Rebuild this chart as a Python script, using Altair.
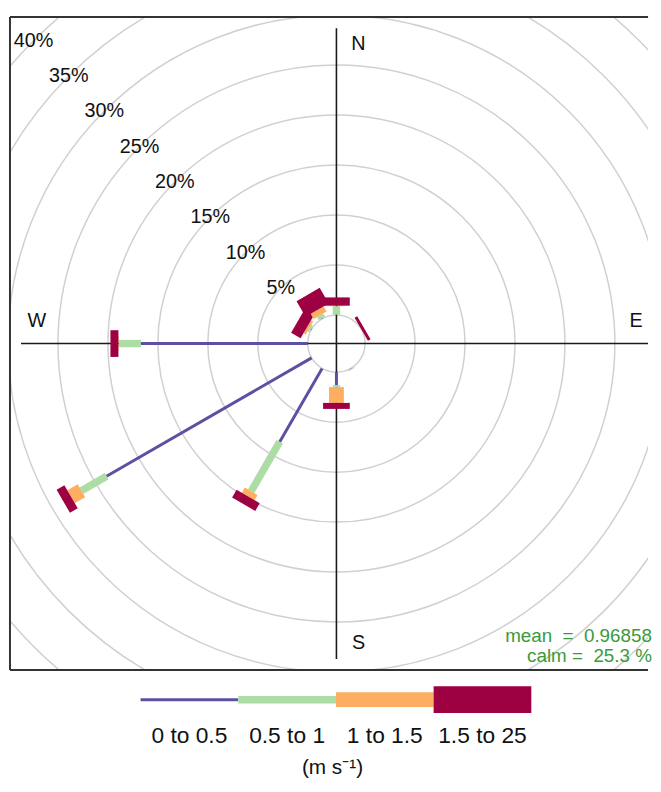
import math
import altair as alt
import pandas as pd

# ---------------- data ----------------
directions = [0, 30, 60, 90, 120, 150, 180, 210, 240, 270, 300, 330]
speed_bins = ["0 to 0.5", "0.5 to 1", "1 to 1.5", "1.5 to 25"]
# frequency (%) of each speed bin per direction
freq_0_05 = [0.02, 0.0, 0.0, 0.0, 0.0, 0.05, 1.29, 8.5, 23.7, 16.7, 0.05, 0.05]
freq_05_1 = [0.85, 0.0, 0.0, 0.0, 0.0, 0.10, 0.20, 5.7, 2.9, 2.2, 0.20, 0.35]
freq_1_15 = [0.05, 0.0, 0.0, 0.0, 0.0, 0.0, 1.58, 0.6, 1.2, 0.05, 0.25, 0.60]
freq_15_25 = [0.83, 0.0, 0.3, 0.0, 0.0, 0.0, 0.60, 0.9, 0.9, 0.8, 1.10, 1.80]
ring_levels = [0, 5, 10, 15, 20, 25, 30, 35, 40]
compass_labels = ["N", "E", "S", "W"]
compass_angles = [0, 90, 180, 270]
mean_speed = "0.96858"
calm_pct = "25.3"
units_label = "(m s\u207b\u00b9)"

# ---------------- styles ----------------
colors = ["#5E4FA2", "#ABDDA4", "#FDAE61", "#9E0142"]
paddle_widths = [3, 7.5, 15, 27]
legend_widths = [5, 15, 23, 31]
FONT = "Liberation Sans"
PANEL_W, PANEL_H = 645, 660
CENTER_X = 330  # pixels from the panel's left edge to the rose centre
NB = "\u00a0"

series = [freq_0_05, freq_05_1, freq_1_15, freq_15_25]
totals = [sum(s[i] for s in series) for i in range(len(directions))]
max_freq = max(totals)
offset = 0.1 * max_freq          # calm circle offset
m = max_freq + offset            # axis line half-length
half = 1.035 * m                 # panel half-size in data units
pxu = (PANEL_H / 2) / half
x_left = -CENTER_X / pxu
xs = alt.Scale(domain=[x_left, x_left + PANEL_W / pxu], nice=False, zero=False)
ys = alt.Scale(domain=[-half, half], nice=False, zero=False)

rows = []
for i, d in enumerate(directions):
    cum = 0.0
    for k, b in enumerate(speed_bins):
        v = series[k][i]
        if v > 0:
            rows.append(dict(dir=d, bin=b, k=k, lo=cum + offset, hi=cum + v + offset))
        cum += v
paddles = pd.DataFrame(rows)

# ---------------- rose ----------------
rings = alt.Chart(pd.DataFrame({"level": ring_levels})).transform_calculate(
    r=f"datum.level + {offset}", cx="0", cy="0"
).mark_arc(fillOpacity=0, stroke="#d0d0d0", strokeWidth=1.5, clip=True).encode(
    x=alt.X("cx:Q", scale=xs, axis=None),
    y=alt.Y("cy:Q", scale=ys, axis=None),
    radius=alt.Radius("r:Q", stack=False,
                      scale=alt.Scale(type="linear", domain=[0, half], range=[0, PANEL_H / 2], nice=False)),
    theta=alt.value(0),
    theta2=alt.value(2 * math.pi),
)

# panel frame: left, top and bottom sides (the right side lies past the picture's edge)
frame_l = alt.Chart(pd.DataFrame({"s": ["left"]})).mark_rule(
    color="#333333", strokeWidth=2
).encode(x=alt.value(0), y=alt.value(0), y2=alt.value(PANEL_H))
frame_tb = alt.Chart(pd.DataFrame({"s": ["top", "bottom"]})).transform_calculate(
    yy=f"datum.s == 'top' ? {half} : {-half}"
).mark_rule(color="#333333", strokeWidth=2).encode(
    x=alt.value(0), x2=alt.value(PANEL_W),
    y=alt.Y("yy:Q", scale=ys, axis=None),
)

cross = alt.Chart(pd.DataFrame({"a": [0, 90]})).transform_calculate(
    x1=f"-{m}*sin(datum.a*PI/180)", y1=f"-{m}*cos(datum.a*PI/180)",
    x2=f"{m}*sin(datum.a*PI/180)", y2=f"{m}*cos(datum.a*PI/180)",
).mark_rule(color="#1a1a1a", strokeWidth=1.6, clip=True).encode(
    x=alt.X("x1:Q", scale=xs, axis=None), y=alt.Y("y1:Q", scale=ys, axis=None),
    x2="x2:Q", y2="y2:Q",
)

paddle_layer = alt.Chart(paddles).transform_calculate(
    x1="datum.lo*sin(datum.dir*PI/180)", y1="datum.lo*cos(datum.dir*PI/180)",
    x2="datum.hi*sin(datum.dir*PI/180)", y2="datum.hi*cos(datum.dir*PI/180)",
).mark_rule(strokeCap="butt").encode(
    x=alt.X("x1:Q", scale=xs, axis=None), y=alt.Y("y1:Q", scale=ys, axis=None),
    x2="x2:Q", y2="y2:Q",
    color=alt.Color("bin:N", scale=alt.Scale(domain=speed_bins, range=colors), legend=None),
    size=alt.Size("k:Q", scale=alt.Scale(domain=[0, 1, 2, 3], range=paddle_widths, zero=False, nice=False), legend=None),
)

ring_text = alt.Chart(pd.DataFrame({"level": ring_levels[1:]})).transform_calculate(
    lx=f"-(datum.level + {offset})*SQRT1_2", ly=f"(datum.level + {offset})*SQRT1_2",
    txt="datum.level + '%'",
).mark_text(font=FONT, fontSize=20, color="#111111").encode(
    x=alt.X("lx:Q", scale=xs, axis=None), y=alt.Y("ly:Q", scale=ys, axis=None), text="txt:N",
)

compass = alt.Chart(pd.DataFrame({"lab": compass_labels, "a": compass_angles})).transform_calculate(
    px=f"0.95*{m}*sin(datum.a*PI/180) + 0.07*{m}*abs(cos(datum.a*PI/180))",
    py=f"0.95*{m}*cos(datum.a*PI/180) + 0.07*{m}*abs(sin(datum.a*PI/180))",
).mark_text(font=FONT, fontSize=20, color="#111111").encode(
    x=alt.X("px:Q", scale=xs, axis=None), y=alt.Y("py:Q", scale=ys, axis=None), text="lab:N",
)

stats_lines = f"mean{NB}{NB}={NB}{NB}{mean_speed}\ncalm{NB}={NB}{NB}{calm_pct}{NB}%"
stats = alt.Chart(pd.DataFrame({"t": [stats_lines]})).transform_calculate(
    sx=f"{m}", sy=f"-{m}"
).mark_text(font=FONT, fontSize=19, color="#3a9a3a", align="right", baseline="alphabetic",
            lineBreak="\n", lineHeight=20, dy=-17).encode(
    x=alt.X("sx:Q", scale=xs, axis=None), y=alt.Y("sy:Q", scale=ys, axis=None), text="t:N",
)

rose = alt.layer(rings, frame_l, frame_tb, cross, paddle_layer, ring_text, compass, stats).properties(
    width=PANEL_W, height=PANEL_H,
    view=alt.ViewBackground(stroke="transparent"),
)

# ---------------- legend ----------------
leg = pd.DataFrame({"bin": speed_bins, "k": list(range(len(speed_bins)))})
leg_x = alt.Scale(domain=[0, len(speed_bins)], range=[132, 527], nice=False, zero=False)
leg_bars = alt.Chart(leg).transform_calculate(k2="datum.k + 1").mark_rule(strokeCap="butt").encode(
    x=alt.X("k:Q", scale=leg_x, axis=None), x2="k2:Q", y=alt.value(30),
    color=alt.Color("bin:N", scale=alt.Scale(domain=speed_bins, range=colors), legend=None),
    size=alt.Size("k:Q", scale=alt.Scale(domain=[0, 1, 2, 3], range=legend_widths, zero=False, nice=False), legend=None),
)
leg_text = alt.Chart(leg).transform_calculate(kc="datum.k + 0.5").mark_text(
    font=FONT, fontSize=23, color="#111111").encode(
    x=alt.X("kc:Q", scale=leg_x, axis=None), y=alt.value(67), text="bin:N",
)
leg_units = alt.Chart(pd.DataFrame({"t": [units_label]})).mark_text(
    font=FONT, fontSize=21, color="#111111").encode(
    x=alt.value(326), y=alt.value(99), text="t:N",
)
legend = alt.layer(leg_bars, leg_text, leg_units).properties(
    width=PANEL_W, height=100,
    view=alt.ViewBackground(stroke="transparent"),
)

chart = alt.vconcat(rose, legend, spacing=0, bounds="flush").properties(
    padding={"left": 0, "top": 3, "right": 0, "bottom": 0}
)

chart.save("out.html", embed_options={"renderer": "svg", "actions": False})
